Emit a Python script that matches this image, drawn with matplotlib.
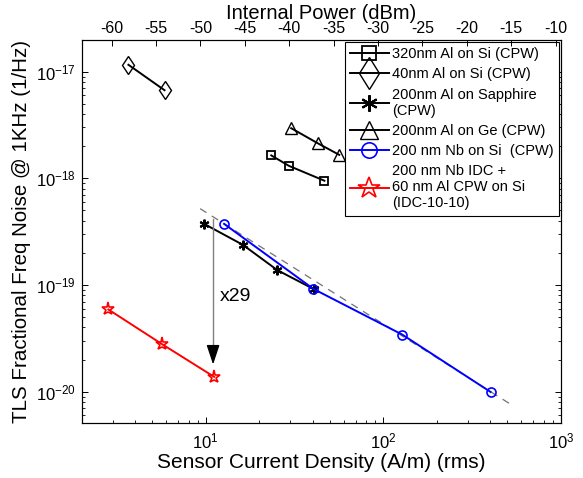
import numpy as np
import matplotlib
matplotlib.use("Agg")
import matplotlib.pyplot as plt
from matplotlib.ticker import LogLocator, NullFormatter

plt.rcParams['font.family'] = ['Liberation Sans', 'DejaVu Sans']
plt.rcParams['axes.unicode_minus'] = False

# data (x: A/m rms, y: 1/Hz)
sq_x = [23.4, 29.4, 46.6]
sq_y = [1.64e-18, 1.31e-18, 9.5e-19]
dia_x = [3.67, 5.86]
dia_y = [1.16e-17, 6.7e-18]
ast_x = [9.8, 16.2, 25.3, 40.9]
ast_y = [3.74e-19, 2.38e-19, 1.38e-19, 9.1e-20]
tri_x = [30.3, 42.8, 56.5]
tri_y = [2.95e-18, 2.13e-18, 1.66e-18]
circ_x = [12.7, 40.4, 128, 402]
circ_y = [3.74e-19, 9.2e-20, 3.43e-20, 9.95e-21]
star_x = [2.83, 5.66, 11.15]
star_y = [5.9e-20, 2.8e-20, 1.38e-20]

# dashed guide line and x29 arrow
guide_x = [9.3, 530]
guide_y = [5.2e-19, 7.5e-21]
arrow_x = 11.0
arrow_top = 4.2e-19
arrow_tip = 1.8e-20

labels = ["320nm Al on Si (CPW)",
          "40nm Al on Si (CPW)",
          "200nm Al on Sapphire\n(CPW)",
          "200nm Al on Ge (CPW)",
          "200 nm Nb on Si  (CPW)",
          "200 nm Nb IDC +\n60 nm Al CPW on Si\n(IDC-10-10)"]

# internal power (dBm) = 20*log10(J) + offset
P_OFFSET = -69.4
power_ticks = list(range(-60, -5, 5))

fig = plt.figure(figsize=(5.83, 4.78), dpi=100)
ax = fig.add_axes([0.140, 0.1144, 0.822, 0.802])

lw = 1.4
ax.plot(sq_x, sq_y, color='k', lw=lw, marker='s', ms=6, mfc='none', mec='k', mew=1.3, label=labels[0])
ax.plot(dia_x, dia_y, color='k', lw=lw, marker='d', ms=9.5, mfc='none', mec='k', mew=1.0, label=labels[1])
ax.plot(ast_x, ast_y, color='k', lw=lw, marker=(6, 2, 0), ms=7, mec='k', mew=1.5, label=labels[2])
ax.plot(tri_x, tri_y, color='k', lw=lw, marker='^', ms=8, mfc='none', mec='k', mew=1.0, label=labels[3])
ax.plot(circ_x, circ_y, color='b', lw=lw, marker='o', ms=6.5, mfc='none', mec='b', mew=1.2, label=labels[4])
ax.plot(star_x, star_y, color='r', lw=lw, marker='*', ms=9.5, mfc='none', mec='r', mew=1.2, label=labels[5])

ax.plot(guide_x, guide_y, color='0.45', lw=0.9, dashes=(6, 5), zorder=1)

ax.plot([arrow_x, arrow_x], [arrow_top, 2.6e-20], color='0.5', lw=1.0)
ax.annotate('', xy=(arrow_x, arrow_tip), xytext=(arrow_x, 2.6e-20),
            arrowprops=dict(arrowstyle='-|>,head_length=0.6,head_width=0.2',
                            color='k', lw=1.0, mutation_scale=20, shrinkA=0, shrinkB=0))
ax.text(12.0, 7.8e-20, 'x29', fontsize=14, ha='left', va='center')

ax.set_xscale('log')
ax.set_yscale('log')
ax.set_xlim(2, 1000)
ax.set_ylim(10 ** -20.296, 10 ** -16.703)
ax.xaxis.set_minor_locator(LogLocator(base=10, subs=np.arange(2, 10)))
ax.yaxis.set_minor_locator(LogLocator(base=10, subs=np.arange(2, 10)))
ax.xaxis.set_minor_formatter(NullFormatter())
ax.yaxis.set_minor_formatter(NullFormatter())
ax.tick_params(which='both', direction='in', right=True, top=False)
ax.tick_params(which='major', length=4.5, width=0.7)
ax.tick_params(which='minor', length=2.5, width=0.6)
ax.tick_params(axis='x', labelsize=12, pad=6)
ax.tick_params(axis='y', labelsize=12, pad=4)
for s in ax.spines.values():
    s.set_linewidth(0.8)

ax.set_xlabel('Sensor Current Density (A/m) (rms)', fontsize=15, labelpad=1)
ax.set_ylabel('TLS Fractional Freq Noise @ 1KHz (1/Hz)', fontsize=14.8, labelpad=4)

ax2 = ax.twiny()
ax2.set_xlim(20 * np.log10(2) + P_OFFSET, 20 * np.log10(1000) + P_OFFSET)
ax2.set_xticks(power_ticks)
ax2.set_xticklabels([str(t) for t in power_ticks])
ax2.tick_params(direction='in', length=4.5, width=0.7, labelsize=11.5, pad=2.5)
ax2.set_xlabel('Internal Power (dBm)', fontsize=14.5, labelpad=2)

leg = ax.legend(loc='upper right', fontsize=10.5, frameon=True, fancybox=False,
                edgecolor='k', framealpha=1, borderaxespad=0.15, borderpad=0.35,
                handlelength=2.7, handletextpad=0.2, labelspacing=0.42, markerscale=1.7)
leg.get_frame().set_linewidth(0.8)

fig.savefig('out.png', dpi=100)
